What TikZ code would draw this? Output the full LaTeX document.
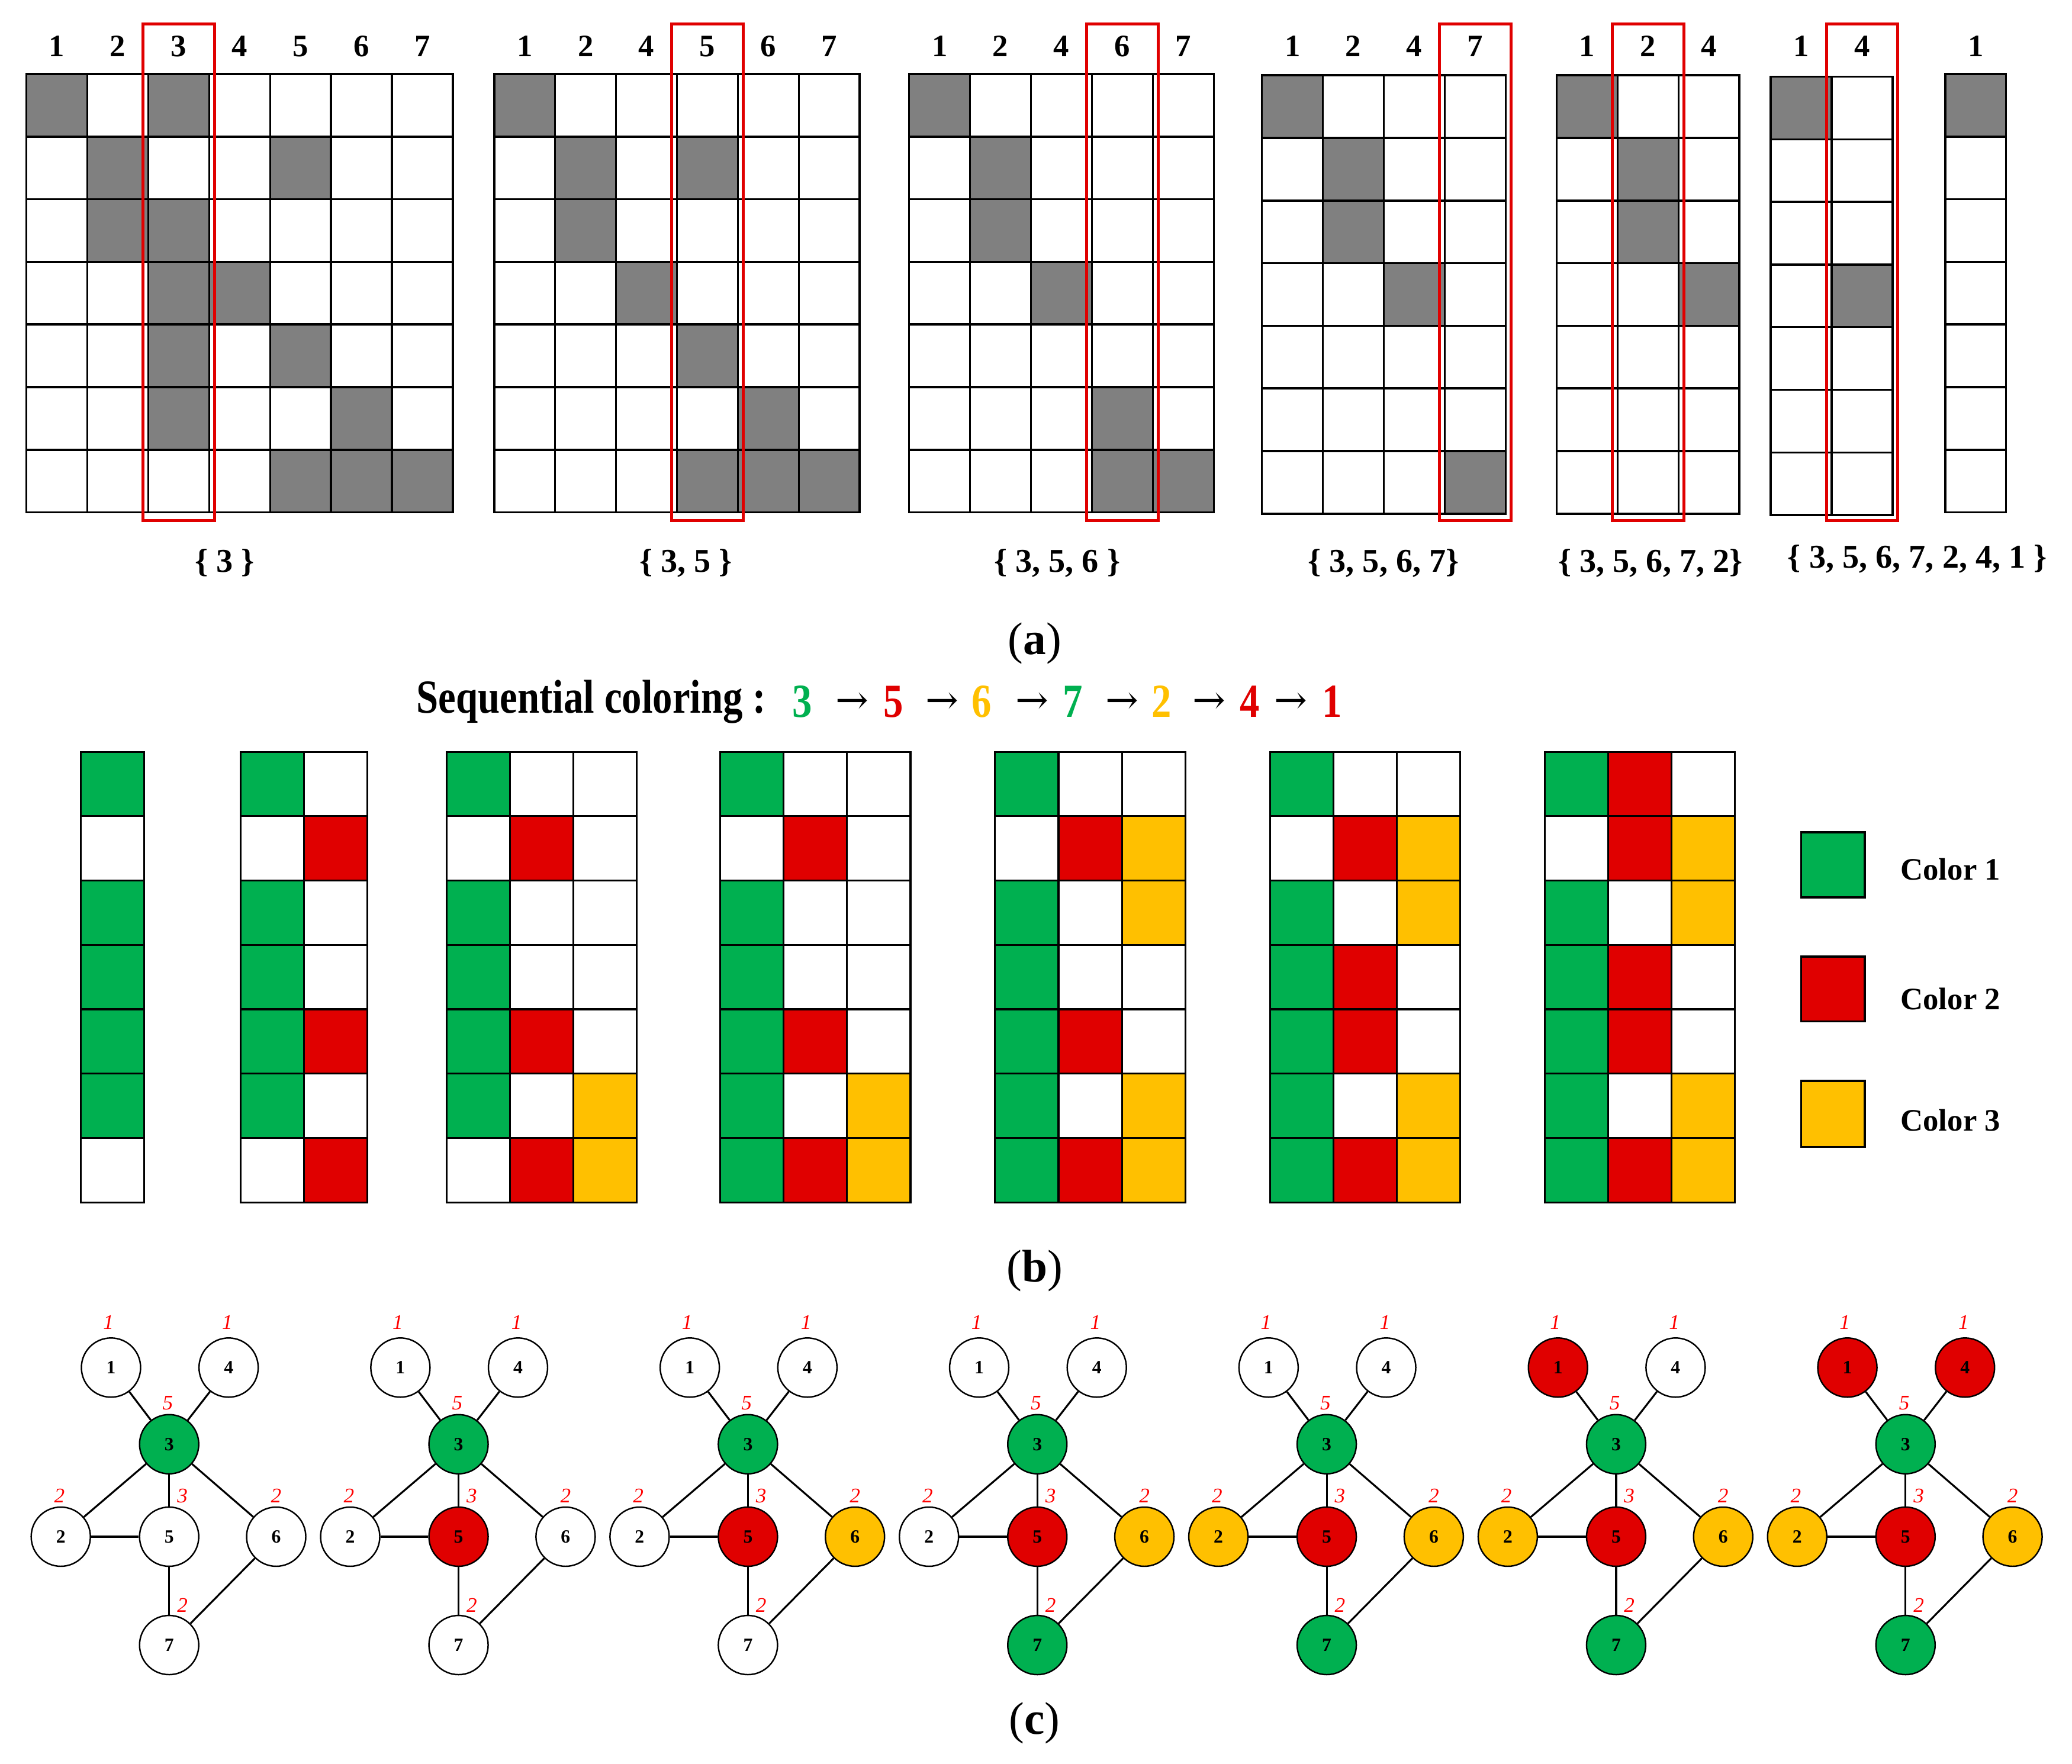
\documentclass[tikz,border=0pt]{standalone}
\usepackage{fontspec}
\setmainfont{Liberation Serif}
\newfontfamily\arrfont{DejaVu Serif}
\usepackage{graphicx}
\definecolor{cg}{HTML}{00B050}
\definecolor{cr}{HTML}{E00000}
\definecolor{cy}{HTML}{FFC000}
\definecolor{cgray}{HTML}{808080}
\definecolor{cred}{HTML}{FF0000}
\tikzset{
  acell/.style={draw=black, line width=1pt},
  bcell/.style={draw=black, line width=0.9pt},
  redbox/.style={draw=cr, line width=1.4pt},
  hdr/.style={font=\fontsize{15}{18}\selectfont\bfseries, inner sep=0pt},
  setlab/.style={font=\fontsize{16}{19}\selectfont\bfseries, inner sep=0pt},
  partlab/.style={font=\fontsize{22}{26}\selectfont, inner sep=0pt},
  ttl/.style={font=\fontsize{19}{23}\selectfont\bfseries, inner sep=0pt},
  arr/.style={font=\fontsize{19}{22}\selectfont\arrfont, inner sep=0pt},
  leglab/.style={font=\fontsize{15}{18}\selectfont\bfseries, inner sep=0pt, anchor=west},
  legbox/.style={draw=black, line width=1.1pt},
  gnode/.style={circle, draw=black, line width=0.7pt, minimum size=1.0cm, inner sep=0pt, font=\fontsize{9}{11}\selectfont\bfseries},
  gedge/.style={draw=black, line width=0.9pt},
  deg/.style={text=cred, font=\fontsize{10}{12}\selectfont\itshape, inner sep=0pt},
}
% part (a) matrix: #1 id, #2 x0, #3 y0, #4 column labels, #5 gray cells col/row
\newcommand\amat[5]{%
  \foreach \lab [count=\i] in {#4} {
    \foreach \r in {1,...,7} {
      \draw[acell, fill=white] ({#2+(\i-1)*46.1},{#3+(\r-1)*47.4}) rectangle ++(46.1,47.4);
    }
    \node[hdr] (h#1-\i) at ({#2+(\i-0.5)*46.1},35) {\lab};
  }
  \foreach \c/\r in {#5} {
    \draw[acell, fill=cgray] ({#2+(\c-1)*46.1},{#3+(\r-1)*47.4}) rectangle ++(46.1,47.4);
  }
}
% red frame: #1 x0, #2 column index
\newcommand\redcol[2]{%
  \draw[redbox] ({#1+(#2-1)*46.1-4},18) rectangle ({#1+#2*46.1+4},394);
}
% part (b) grid: #1 x0, #2 ncols, #3 coloured cells col/row/colour
\newcommand\bgrid[3]{%
  \foreach \c in {1,...,#2} {
    \foreach \r in {1,...,7} {
      \draw[bcell, fill=white] ({#1+(\c-1)*48},{569+(\r-1)*48.71}) rectangle ++(48,48.71);
    }
  }
  \foreach \c/\r/\cl in {#3} {
    \draw[bcell, fill=\cl] ({#1+(\c-1)*48},{569+(\r-1)*48.71}) rectangle ++(48,48.71);
  }
}
% part (c) graph: #1 index, #2..#8 fills of nodes 1..7
\newcommand\gc[8]{%
  \pgfmathsetmacro\gdx{219*#1}
  \node[gnode, fill=#2] (g#1n1) at ({84+\gdx},1035) {1};
  \node[gnode, fill=#5] (g#1n4) at ({173+\gdx},1035) {4};
  \node[gnode, fill=#4] (g#1n3) at ({128+\gdx},1093) {3};
  \node[gnode, fill=#3] (g#1n2) at ({46+\gdx},1163) {2};
  \node[gnode, fill=#6] (g#1n5) at ({128+\gdx},1163) {5};
  \node[gnode, fill=#7] (g#1n6) at ({209+\gdx},1163) {6};
  \node[gnode, fill=#8] (g#1n7) at ({128+\gdx},1245) {7};
  \draw[gedge] (g#1n1) -- (g#1n3);
  \draw[gedge] (g#1n4) -- (g#1n3);
  \draw[gedge] (g#1n3) -- (g#1n2);
  \draw[gedge] (g#1n3) -- (g#1n5);
  \draw[gedge] (g#1n3) -- (g#1n6);
  \draw[gedge] (g#1n2) -- (g#1n5);
  \draw[gedge] (g#1n5) -- (g#1n7);
  \draw[gedge] (g#1n6) -- (g#1n7);
  \node[deg] (g#1d1) at ({82+\gdx},1001) {1};
  \node[deg] (g#1d4) at ({172+\gdx},1001) {1};
  \node[deg] (g#1d3) at ({127+\gdx},1062) {5};
  \node[deg] (g#1d2) at ({45+\gdx},1132) {2};
  \node[deg] (g#1d5) at ({138+\gdx},1132) {3};
  \node[deg] (g#1d6) at ({209+\gdx},1132) {2};
  \node[deg] (g#1d7) at ({138+\gdx},1215) {2};
}
\begin{document}
\begin{tikzpicture}[x=0.022321cm, y=-0.022321cm]
\useasboundingbox (0,0) rectangle (1568,1335);
\fill[white] (0,0) rectangle (1568,1335);

% ---------- part (a)
\amat{m1}{20}{56}{1,2,3,4,5,6,7}{1/1,3/1,2/2,5/2,2/3,3/3,3/4,4/4,3/5,5/5,3/6,6/6,5/7,6/7,7/7}
\redcol{20}{3}
\amat{m2}{374}{56}{1,2,4,5,6,7}{1/1,2/2,4/2,2/3,3/4,4/5,5/6,4/7,5/7,6/7}
\redcol{374}{4}
\amat{m3}{688}{56}{1,2,4,6,7}{1/1,2/2,2/3,3/4,4/6,4/7,5/7}
\redcol{688}{4}
\amat{m4}{955}{57}{1,2,4,7}{1/1,2/2,2/3,3/4,4/7}
\redcol{955}{4}
\amat{m5}{1178}{57}{1,2,4}{1/1,2/2,2/3,3/4}
\redcol{1178}{2}
\amat{m6}{1340}{58}{1,4}{1/1,2/4}
\redcol{1340}{2}
\amat{m7}{1472}{56}{1}{1/1}

\node[setlab] (s1) at (170,426) {\{ 3 \}};
\node[setlab] (s2) at (519,426) {\{ 3, 5 \}};
\node[setlab] (s3) at (800,426) {\{ 3, 5, 6 \}};
\node[setlab] (s4) at (1047,426) {\{ 3, 5, 6, 7\}};
\node[setlab] (s5) at (1249,426) {\{ 3, 5, 6, 7, 2\}};
\node[setlab] (s6) at (1451,423) {\{ 3, 5, 6, 7, 2, 4, 1 \}};

\node[partlab] (pa) at (783,487) {(\textbf{a})};

% ---------- part (b)
\node[ttl, anchor=west] (t0) at (315,531) {\scalebox{1}[1.2]{Sequential coloring :}};
\node[ttl, text=cg] (t1) at (607,531) {\scalebox{1}[1.2]{3}};
\node[ttl, text=cr] (t2) at (676,531) {\scalebox{1}[1.2]{5}};
\node[ttl, text=cy] (t3) at (743,531) {\scalebox{1}[1.2]{6}};
\node[ttl, text=cg] (t4) at (812,531) {\scalebox{1}[1.2]{7}};
\node[ttl, text=cy] (t5) at (879,531) {\scalebox{1}[1.2]{2}};
\node[ttl, text=cr] (t6) at (946,531) {\scalebox{1}[1.2]{4}};
\node[ttl, text=cr] (t7) at (1008,531) {\scalebox{1}[1.2]{1}};
\node[arr] (a1) at (645,532) {→};
\node[arr] (a2) at (713,532) {→};
\node[arr] (a3) at (781,532) {→};
\node[arr] (a4) at (849,532) {→};
\node[arr] (a5) at (915,532) {→};
\node[arr] (a6) at (977,532) {→};

\bgrid{61}{1}{1/1/cg,1/3/cg,1/4/cg,1/5/cg,1/6/cg}
\bgrid{182}{2}{1/1/cg,1/3/cg,1/4/cg,1/5/cg,1/6/cg,2/2/cr,2/5/cr,2/7/cr}
\bgrid{338}{3}{1/1/cg,1/3/cg,1/4/cg,1/5/cg,1/6/cg,2/2/cr,2/5/cr,2/7/cr,3/6/cy,3/7/cy}
\bgrid{545}{3}{1/1/cg,1/3/cg,1/4/cg,1/5/cg,1/6/cg,1/7/cg,2/2/cr,2/5/cr,2/7/cr,3/6/cy,3/7/cy}
\bgrid{753}{3}{1/1/cg,1/3/cg,1/4/cg,1/5/cg,1/6/cg,1/7/cg,2/2/cr,2/5/cr,2/7/cr,3/2/cy,3/3/cy,3/6/cy,3/7/cy}
\bgrid{961}{3}{1/1/cg,1/3/cg,1/4/cg,1/5/cg,1/6/cg,1/7/cg,2/2/cr,2/4/cr,2/5/cr,2/7/cr,3/2/cy,3/3/cy,3/6/cy,3/7/cy}
\bgrid{1169}{3}{1/1/cg,1/3/cg,1/4/cg,1/5/cg,1/6/cg,1/7/cg,2/1/cr,2/2/cr,2/4/cr,2/5/cr,2/7/cr,3/2/cy,3/3/cy,3/6/cy,3/7/cy}

\draw[legbox, fill=cg] (1363,630) rectangle (1411,679);
\draw[legbox, fill=cr] (1363,724) rectangle (1411,773);
\draw[legbox, fill=cy] (1363,818) rectangle (1411,868);
\node[leglab] (l1) at (1438,658) {Color 1};
\node[leglab] (l2) at (1438,756) {Color 2};
\node[leglab] (l3) at (1438,848) {Color 3};

\node[partlab] (pb) at (783,962) {(\textbf{b})};

% ---------- part (c)
\gc{0}{white}{white}{cg}{white}{white}{white}{white}
\gc{1}{white}{white}{cg}{white}{cr}{white}{white}
\gc{2}{white}{white}{cg}{white}{cr}{cy}{white}
\gc{3}{white}{white}{cg}{white}{cr}{cy}{cg}
\gc{4}{white}{cy}{cg}{white}{cr}{cy}{cg}
\gc{5}{cr}{cy}{cg}{white}{cr}{cy}{cg}
\gc{6}{cr}{cy}{cg}{cr}{cr}{cy}{cg}

\node[partlab] (pc) at (783,1304) {(\textbf{c})};
\end{tikzpicture}
\end{document}
